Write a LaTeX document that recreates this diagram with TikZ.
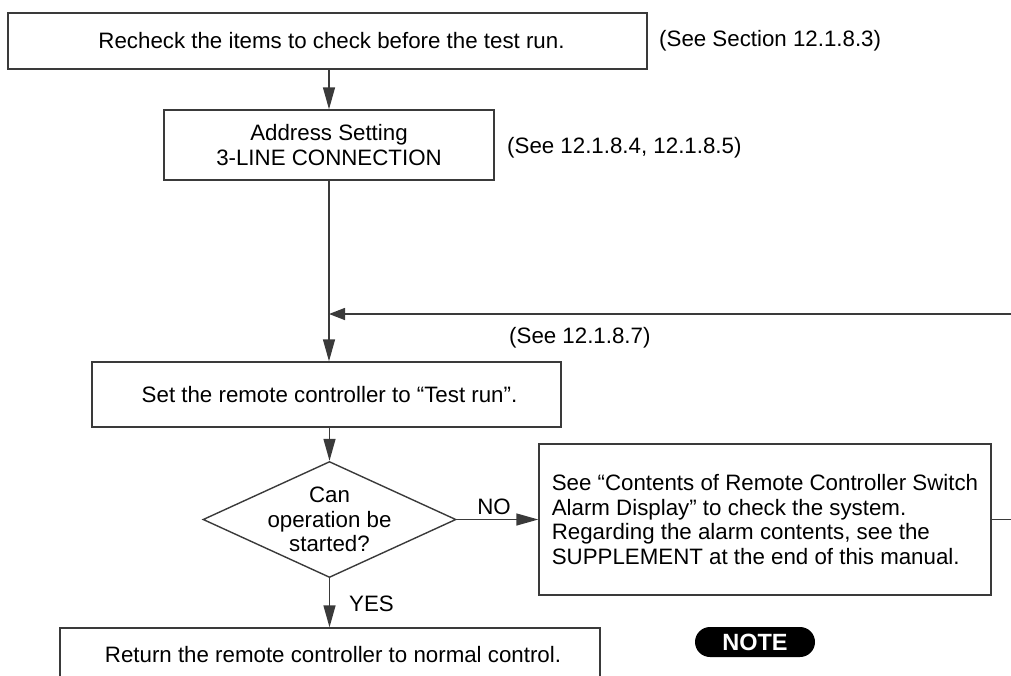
\documentclass[tikz,border=0pt]{standalone}
\usepackage{fontspec}
\setmainfont{Liberation Sans}
\usetikzlibrary{shapes.geometric,arrows.meta}
\definecolor{linec}{HTML}{3A3A3A}
\begin{document}
\begin{tikzpicture}[x=1pt,y=-1pt,
  every node/.style={font=\fontsize{22.3}{24.5}\selectfont, text=black},
  box/.style={draw=linec, line width=1.4pt, inner sep=0pt, align=center},
  conn/.style={draw=linec, line width=1.4pt},
  arr/.style={conn, -{Triangle[length=22pt,width=12pt]}},
  sarr/.style={conn, -{Triangle[length=16pt,width=12pt]}},
  lbl/.style={inner sep=0pt},
]
\path[use as bounding box] (0,0) rectangle (1011,675);
\clip (0,0) rectangle (1011,675);

\node[box, minimum width=639pt, minimum height=56pt] (recheck) at (327.5,41) {\hspace*{8pt}Recheck the items to check before the test run.};
\node[lbl, anchor=west] (ref1) at (659,41) {(See Section 12.1.8.3)};

\node[box, minimum width=330pt, minimum height=70pt] (addr) at (329,145) {Address Setting\\3-LINE CONNECTION};
\node[lbl, anchor=west] (ref2) at (507,148) {(See 12.1.8.4, 12.1.8.5)};

\coordinate (join) at (329,314);
\coordinate (retA) at (1011,314);
\node[lbl, anchor=west] (ref3) at (509,338) {(See 12.1.8.7)};

\node[box, minimum width=469pt, minimum height=65pt] (set) at (326.5,394.5) {\hspace*{6pt}Set the remote controller to “Test run”.};

\node[diamond, draw=linec, line width=1.4pt, minimum width=253pt, minimum height=116pt, inner sep=0pt] (dec) at (329.5,519.5) {};
\node[align=center, lbl] (dectext) at (dec.center) {Can\\operation be\\started?};

\node[box, align=left, minimum width=452pt, minimum height=151pt] (alarm) at (765,519.5) {See “Contents of Remote Controller Switch\\Alarm Display” to check the system.\\Regarding the alarm contents, see the\\SUPPLEMENT at the end of this manual.};
\coordinate (retB) at (1011,519.5);

\node[box, minimum width=540pt, minimum height=54pt] (ret) at (330,655) {\hspace*{6pt}Return the remote controller to normal control.};

\node[fill=black, rounded corners=15pt, minimum width=120pt, minimum height=30pt, inner sep=0pt, text=white, font=\bfseries\fontsize{23.5}{24}\selectfont] (note) at (755,642) {NOTE};

\node[lbl] (no) at (494,507) {NO};
\node[lbl, anchor=west] (yes) at (349,604) {YES};

% connectors
\draw[arr] (addr.north |- recheck.south) -- (addr.north);
\draw[arr] (addr.south) -- (addr.south |- set.north);
\draw[sarr] (retA) -- (join);
\draw[arr] (dec.north |- set.south) -- (dec.north);
\draw[arr] (dec.east) -- (alarm.west);
\draw[conn] (alarm.east) -- (retB);
\draw[arr] (dec.south) -- (dec.south |- ret.north);
\end{tikzpicture}
\end{document}
